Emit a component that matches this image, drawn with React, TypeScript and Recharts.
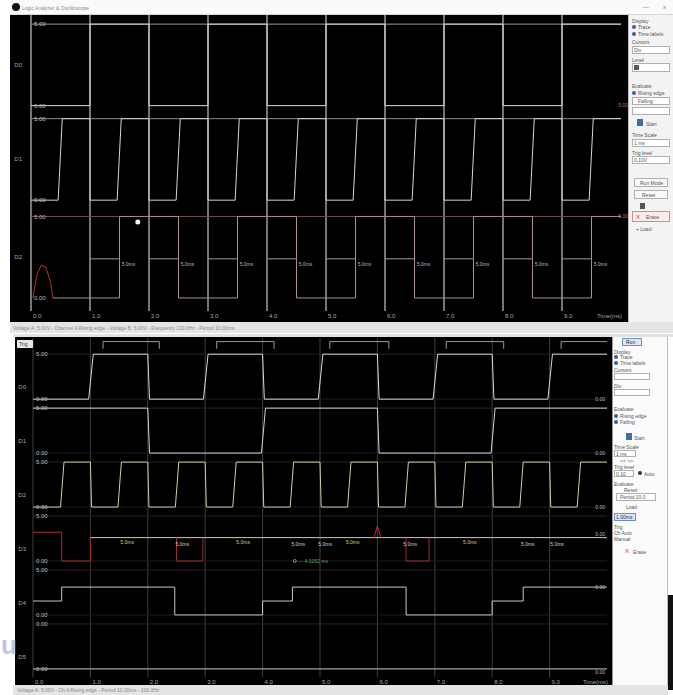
import React from 'react'
import { LineChart, Line, XAxis, YAxis, ReferenceLine, ReferenceDot } from 'recharts'

type Pt = [number, number]

// time in screen divisions, levels in volts per channel
const divs = [0, 1, 2, 3, 4, 5, 6, 7, 8, 9, 10]
const timeLabels = ['0.0', '1.0', '2.0', '3.0', '4.0', '5.0', '6.0', '7.0', '8.0', '9.0', 'Time(ms)']

// upper capture
const topNames = ['D0', 'D1', 'D2']
const topClock: Pt[] = [[0, 0], [1, 0], [1, 5], [2, 5], [2, 0], [3, 0], [3, 5], [4, 5], [4, 0], [5, 0], [5, 5], [6, 5], [6, 0], [7, 0], [7, 5], [8, 5], [8, 0], [9, 0], [9, 5], [10, 5]]
const topFast: Pt[] = [[0, 0], [0.46, 0], [0.53, 5], [1, 5], [1, 0], [1.46, 0], [1.53, 5], [2, 5], [2, 0], [2.46, 0], [2.53, 5], [3, 5], [3, 0], [3.46, 0], [3.53, 5], [4, 5], [4, 0], [4.46, 0], [4.53, 5], [5, 5], [5, 0], [5.46, 0], [5.53, 5], [6, 5], [6, 0], [6.46, 0], [6.53, 5], [7, 5], [7, 0], [7.46, 0], [7.53, 5], [8, 5], [8, 0], [8.46, 0], [8.53, 5], [9, 5], [9, 0], [9.46, 0], [9.53, 5], [10, 5]]
const topOut: Pt[] = [[0.37, 0], [1.5, 0], [1.5, 5], [2.5, 5], [2.5, 0], [3.5, 0], [3.5, 5], [4.5, 5], [4.5, 0], [5.5, 0], [5.5, 5], [6.5, 5], [6.5, 0], [7.5, 0], [7.5, 5], [8.5, 5], [8.5, 0], [9.5, 0], [9.5, 5], [10, 5]]
const topGlitch: Pt[] = [[0.03, 0], [0.1, 1.4], [0.17, 2], [0.25, 1.9], [0.33, 1], [0.37, 0]]
const topDelayFrom = [1, 2, 3, 4, 5, 6, 7, 8, 9]
const topDelayText = '5.0ms'

// lower capture
const botNames = ['D0', 'D1', 'D2', 'D3', 'D4', 'D5']
const botClock: Pt[] = [[0, 0], [0.97, 0], [1.05, 5], [2, 5], [2.03, 0], [2.97, 0], [3.05, 5], [4, 5], [4.03, 0], [4.97, 0], [5.05, 5], [6, 5], [6.03, 0], [6.97, 0], [7.05, 5], [8, 5], [8.03, 0], [8.97, 0], [9.05, 5], [10, 5]]
const botHalf: Pt[] = [[0, 5], [2, 5], [2.03, 0], [3.98, 0], [4.05, 5], [6, 5], [6.03, 0], [7.98, 0], [8.05, 5], [10, 5]]
const botFast: Pt[] = [[0, 0], [0.48, 0], [0.54, 5], [1, 5], [1.02, 0], [1.48, 0], [1.54, 5], [2, 5], [2.02, 0], [2.48, 0], [2.54, 5], [3, 5], [3.02, 0], [3.48, 0], [3.54, 5], [4, 5], [4.02, 0], [4.48, 0], [4.54, 5], [5, 5], [5.02, 0], [5.48, 0], [5.54, 5], [6, 5], [6.02, 0], [6.48, 0], [6.54, 5], [7, 5], [7.02, 0], [7.48, 0], [7.54, 5], [8, 5], [8.02, 0], [8.48, 0], [8.54, 5], [9, 5], [9.02, 0], [9.48, 0], [9.54, 5], [10, 5]]
const botRed: Pt[] = [[0, 3.2], [0.5, 3.2], [0.5, 0], [1, 0], [1, 2.6]]
const botYellow: Pt[] = [[1, 2.6], [10, 2.6]]
const botDips: Pt[][] = [
  [[2.5, 2.6], [2.5, 0], [2.96, 0], [2.96, 2.6]],
  [[6.5, 2.6], [6.5, 0], [6.9, 0], [6.9, 2.6]],
]
const botSpike: Pt[] = [[5.94, 2.6], [6, 3.9], [6.06, 2.6]]
const botStep: Pt[] = [[0, 1.55], [0.5, 1.55], [0.5, 3.1], [2.47, 3.1], [2.47, 0], [4, 0], [4, 1.55], [4.52, 1.55], [4.52, 3.1], [6.5, 3.1], [6.5, 0], [8, 0], [8, 1.55], [8.54, 1.55], [8.54, 3.1], [10, 3.1]]
const botFlat: Pt[] = [[0, 0], [10, 0]]
const botBrackets: Pt[][] = [
  [[1.22, 5.6], [1.22, 6.4], [2.2, 6.4], [2.2, 5.6]],
  [[3.2, 5.6], [3.2, 6.4], [4.2, 6.4], [4.2, 5.6]],
  [[5.17, 5.6], [5.17, 6.4], [6.2, 6.4], [6.2, 5.6]],
  [[7.2, 5.6], [7.2, 6.4], [8.2, 6.4], [8.2, 5.6]],
  [[9.2, 5.6], [9.2, 6.4], [10, 6.4]],
]
const botTagsYellow = [1.64, 3.66, 5.57, 7.61]
const botTagsWhite = [2.6, 4.62, 5.09, 6.57, 8.62, 9.13]
const botTagText = '5.0ms'
const botRightLevels = [0, 0, 0, 3.0, 3.1, -0.4]

const font = '"Liberation Sans", Arial, sans-serif'
const ser = (pts: Pt[], off: number) => pts.map(([t, v]) => ({ t, v: v + off }))

function TimeTick(props: any) {
  const { x, y, payload } = props
  const i = divs.indexOf(payload.value)
  const last = i === divs.length - 1
  return (
    <text x={last ? x + 1 : x + 2} y={y + 7} fontSize={6} fill="#a8a8a8" fontFamily={font} textAnchor={last ? 'end' : 'start'}>
      {timeLabels[i]}
    </text>
  )
}

function NameTick(props: any) {
  const { x, y, payload, names, offsets, lift } = props
  const i = offsets.findIndex((o: number) => Math.abs(o + lift - payload.value) < 0.01)
  return (
    <text x={x} y={y} dy={2} fontSize={6} fill="#a8a8a8" fontFamily={font} textAnchor="end">
      {names[i]}
    </text>
  )
}

const lvl = (value: string, fill = '#bdbdbd') => ({ value, position: 'insideLeft' as const, fill, fontSize: 6, offset: 3, fontFamily: font })

function trace(key: string, pts: Pt[], off: number, stroke: string) {
  return (
    <Line key={key} yAxisId="y" data={ser(pts, off)} dataKey="v" type="linear" stroke={stroke} strokeWidth={1}
      dot={false} activeDot={false} isAnimationActive={false} />
  )
}

function TopScope() {
  const offs = [11.8, 6, 0]
  return (
    <LineChart width={618} height={305} margin={{ top: 0, right: 7, bottom: 0, left: 0 }}>
      <XAxis type="number" dataKey="t" domain={[0, 10]} ticks={divs} interval={0} allowDataOverflow
        axisLine={false} tickLine={false} tickSize={0} tickMargin={0} height={9} tick={(p: any) => <TimeTick {...p} />} />
      <YAxis yAxisId="y" type="number" domain={[-0.8, 17.36]} allowDataOverflow ticks={offs.map((o) => o + 2.5)}
        axisLine={false} tickLine={false} tickSize={0} tickMargin={9} width={21}
        tick={(p: any) => <NameTick {...p} names={topNames} offsets={offs} lift={2.5} />} />
      {divs.slice(0, 10).map((d) => (
        <ReferenceLine key={'g' + d} yAxisId="y" x={d} stroke="#c4c4c4" strokeWidth={1.2} />
      ))}
      <ReferenceLine yAxisId="y" y={offs[0] + 5} stroke="#9a9a9a" label={lvl('5.00')} />
      <ReferenceLine yAxisId="y" y={offs[0]} stroke="none" label={lvl('0.00')} />
      <ReferenceLine yAxisId="y" y={offs[1] + 5} stroke="#8a8a8a" label={lvl('5.00')} />
      <ReferenceLine yAxisId="y" y={offs[1]} stroke="none" label={lvl('0.00')} />
      <ReferenceLine yAxisId="y" y={offs[2] + 5} stroke="#7c4a4a" label={lvl('5.00')} />
      <ReferenceLine yAxisId="y" y={offs[2]} stroke="none" label={lvl('0.00')} />
      {topDelayFrom.map((d) => (
        <ReferenceLine key={'m' + d} yAxisId="y" segment={[{ x: d, y: offs[2] + 2.4 }, { x: d + 0.5, y: offs[2] + 2.4 }]} stroke="#9a9a9a" />
      ))}
      {topDelayFrom.map((d) => (
        <ReferenceDot key={'ml' + d} yAxisId="y" x={d + 0.52} y={offs[2] + 2.1} r={0} stroke="none" fill="none"
          label={{ value: topDelayText, position: 'right', fill: '#b8b8b8', fontSize: 5, offset: 1, fontFamily: font }} />
      ))}
      {trace('c1', topClock, offs[0], '#dcdcdc')}
      {trace('c2', topFast, offs[1], '#d6d6d6')}
      {trace('c3', topOut, offs[2], '#a98e8e')}
      {trace('gl', topGlitch, offs[2], '#a83434')}
      <ReferenceDot yAxisId="y" x={10} y={offs[0]} r={0} stroke="none" fill="none"
        label={{ value: '5.00', position: 'left', fill: '#c86a6a', fontSize: 5, offset: -7, fontFamily: font }} />
      <ReferenceDot yAxisId="y" x={10} y={offs[2] + 5} r={0} stroke="none" fill="none"
        label={{ value: '5.00', position: 'left', fill: '#c86a6a', fontSize: 5, offset: -7, fontFamily: font }} />
      <ReferenceDot yAxisId="y" x={1.81} y={offs[2] + 4.66} r={2.5} stroke="none" fill="#f4f4f4" />
    </LineChart>
  )
}

function BottomScope() {
  const offs = [30, 24, 18, 12, 6, 0]
  return (
    <LineChart width={597} height={348} margin={{ top: 1, right: 5, bottom: 0, left: 0 }}>
      <XAxis type="number" dataKey="t" domain={[0, 10]} ticks={divs} interval={0} allowDataOverflow
        axisLine={false} tickLine={false} tickSize={0} tickMargin={0} height={8} tick={(p: any) => <TimeTick {...p} />} />
      <YAxis yAxisId="y" type="number" domain={[-0.9, 36.8]} allowDataOverflow ticks={offs.map((o) => o + 1.3)}
        axisLine={false} tickLine={false} tickSize={0} tickMargin={7} width={18}
        tick={(p: any) => <NameTick {...p} names={botNames} offsets={offs} lift={1.3} />} />
      {divs.slice(0, 10).map((d) => (
        <ReferenceLine key={'g' + d} yAxisId="y" x={d} stroke="#3e3e3e" />
      ))}
      {offs.map((o, i) => (
        <ReferenceLine key={'h' + i} yAxisId="y" y={o + 5} stroke="#242424" label={lvl(i === 5 ? '0.00' : '5.00')} />
      ))}
      {offs.map((o, i) => (
        <ReferenceLine key={'z' + i} yAxisId="y" y={o} stroke="#1c1c1c" label={lvl('0.00')} />
      ))}
      {botBrackets.map((b, i) => trace('br' + i, b, offs[0], '#9a9a9a'))}
      {trace('a', botClock, offs[0], '#d8d8d8')}
      {trace('b', botHalf, offs[1], '#d4d4d4')}
      {trace('c', botFast, offs[2], '#c4d3a8')}
      {trace('y', botYellow, offs[3], '#d2d08a')}
      {trace('r', botRed, offs[3], '#b02a2a')}
      {botDips.map((d, i) => trace('dp' + i, d, offs[3], '#9a3030'))}
      {trace('sp', botSpike, offs[3], '#c02828')}
      {trace('e', botStep, offs[4], '#c8c8c8')}
      {trace('f', botFlat, offs[5], '#c0c0c0')}
      {botTagsYellow.map((t) => (
        <ReferenceDot key={'ty' + t} yAxisId="y" x={t} y={offs[3] + 2.1} r={0} stroke="none" fill="none"
          label={{ value: botTagText, position: 'center', fill: '#d8d27a', fontSize: 5, fontFamily: font }} />
      ))}
      {botTagsWhite.map((t) => (
        <ReferenceDot key={'tw' + t} yAxisId="y" x={t} y={offs[3] + 1.9} r={0} stroke="none" fill="none"
          label={{ value: botTagText, position: 'center', fill: '#d0d0d0', fontSize: 5, fontFamily: font }} />
      ))}
      <ReferenceDot yAxisId="y" x={4.56} y={offs[3]} r={1.5} stroke="#6aa86a" fill="none"
        label={{ value: '— 4.0152 ms', position: 'right', fill: '#6aa86a', fontSize: 5, offset: 2, fontFamily: font }} />
      {botRightLevels.map((v, i) => (
        <ReferenceDot key={'rl' + i} yAxisId="y" x={10} y={offs[i] + v} r={0} stroke="none" fill="none"
          label={{ value: '0.00', position: 'left', fill: '#bdbdbd', fontSize: 5, offset: 2, fontFamily: font }} />
      ))}
    </LineChart>
  )
}

function T({ x, y, c, s, children }: any) {
  return (
    <div style={{ position: 'absolute', left: x, top: y, fontSize: s ?? 5, lineHeight: '6px', color: c ?? '#555', whiteSpace: 'nowrap' }}>
      {children}
    </div>
  )
}

function Box({ x, y, w, h, b, bg }: any) {
  return (
    <div style={{ position: 'absolute', left: x, top: y, width: w, height: h, background: bg ?? '#fff', border: `1px solid ${b ?? '#b0b0b0'}`, boxSizing: 'border-box' }} />
  )
}

function Dot({ x, y, c }: any) {
  return <div style={{ position: 'absolute', left: x, top: y, width: 4, height: 4, borderRadius: 2, background: c ?? '#3a5fa0' }} />
}

export default function App() {
  return (
    <div style={{ position: 'absolute', left: 0, top: 0, width: 673, height: 695, background: '#fff', overflow: 'hidden', fontFamily: font }}>
      {/* upper window */}
      <div style={{ position: 'absolute', left: 10, top: 0, width: 663, height: 15, background: '#fafafa', borderBottom: '1px solid #d8d8d8', boxSizing: 'border-box' }} />
      <div style={{ position: 'absolute', left: 12, top: 3, width: 8, height: 8, borderRadius: 4, background: '#111' }} />
      <T x={22} y={5} c="#888">Logic Analyzer &amp; Oscilloscope</T>
      <T x={643} y={4} c="#777" s={6}>—</T>
      <T x={663} y={4} c="#777" s={6}>x</T>
      <div style={{ position: 'absolute', left: 10, top: 15, width: 618, height: 307, background: '#000' }}>
        <TopScope />
      </div>
      <div style={{ position: 'absolute', left: 10, top: 322, width: 663, height: 11, background: '#e4e4e4' }} />
      <T x={13} y={325} c="#8a8a8a">Voltage A: 5.00V - Channel A Rising edge - Voltage B: 5.00V - Frequency 100.0Hz - Period 10.00ms</T>
      <div style={{ position: 'absolute', left: 628, top: 15, width: 45, height: 307, background: '#f3f3f3', borderLeft: '1px solid #bbb', boxSizing: 'border-box' }} />
      <T x={632} y={18}>Display</T>
      <Dot x={632} y={25} /><T x={638} y={24}>Trace</T>
      <Dot x={632} y={32} /><T x={638} y={31}>Time labels</T>
      <T x={632} y={39}>Cursors</T>
      <Box x={632} y={46} w={38} h={8} /><T x={634} y={47}>Div</T>
      <T x={632} y={57}>Level</T>
      <Box x={632} y={63} w={38} h={9} /><div style={{ position: 'absolute', left: 634, top: 65, width: 5, height: 5, background: '#556' }} />
      <T x={632} y={83}>Evaluate</T>
      <Dot x={632} y={91} /><T x={638} y={90}>Rising edge</T>
      <Box x={632} y={97} w={38} h={8} /><T x={638} y={98}>Falling</T>
      <Box x={632} y={107} w={38} h={8} />
      <div style={{ position: 'absolute', left: 637, top: 119, width: 6, height: 7, background: '#3b6ea8' }} /><T x={646} y={121}>Start</T>
      <T x={632} y={132}>Time Scale</T>
      <Box x={632} y={139} w={38} h={8} /><T x={634} y={140}>1 ms</T>
      <T x={632} y={150}>Trig level</T>
      <Box x={632} y={156} w={38} h={8} /><T x={634} y={157}>0.10V</T>
      <Box x={634} y={178} w={34} h={9} bg="#f8f8f8" /><T x={640} y={180}>Run Mode</T>
      <Box x={634} y={190} w={34} h={9} bg="#f8f8f8" /><T x={642} y={192}>Reset</T>
      <div style={{ position: 'absolute', left: 640, top: 203, width: 5, height: 6, background: '#555' }} />
      <Box x={632} y={211} w={38} h={11} b="#d88" bg="#fbeaea" /><T x={636} y={214} c="#c33" s={6}>X</T><T x={646} y={214}>Erase</T>
      <T x={636} y={226}>+ Load</T>

      {/* lower window */}
      <div style={{ position: 'absolute', left: 13, top: 334, width: 660, height: 3, background: '#e2e2e2' }} />
      <div style={{ position: 'absolute', left: 15, top: 337, width: 597, height: 348, background: '#000' }}>
        <BottomScope />
      </div>
      <div style={{ position: 'absolute', left: 17, top: 340, width: 16, height: 8, background: '#e8e8e8', borderRadius: 1 }} />
      <T x={19} y={341} c="#333">Trig</T>
      <div style={{ position: 'absolute', left: 612, top: 337, width: 56, height: 348, background: '#fbfbfb', borderLeft: '1px solid #999', borderRight: '1px solid #bbb', boxSizing: 'border-box' }} />
      <Box x={622} y={338} w={20} h={8} b="#6b8fc4" bg="#dce8f6" /><T x={626} y={339} c="#224">Run</T>
      <T x={614} y={349}>Display</T>
      <Dot x={614} y={355} /><T x={620} y={354}>Trace</T>
      <Dot x={614} y={361} /><T x={620} y={360}>Time labels</T>
      <T x={614} y={367}>Cursors</T>
      <Box x={614} y={373} w={36} h={7} />
      <T x={614} y={383}>Div</T>
      <Box x={614} y={389} w={36} h={7} />
      <T x={614} y={406}>Evaluate</T>
      <Dot x={614} y={414} /><T x={620} y={413}>Rising edge</T>
      <Dot x={614} y={420} /><T x={620} y={419}>Falling</T>
      <div style={{ position: 'absolute', left: 626, top: 433, width: 6, height: 7, background: '#3b6ea8' }} /><T x={634} y={435}>Start</T>
      <T x={614} y={444}>Time Scale</T>
      <Box x={614} y={450} w={22} h={7} /><T x={616} y={451}>1 ms</T>
      <T x={620} y={458}>&lt;&lt; &gt;&gt;</T>
      <T x={614} y={464}>Trig level</T>
      <Box x={614} y={470} w={20} h={7} /><T x={616} y={471}>0.10</T>
      <Dot x={638} y={471} c="#333" /><T x={644} y={471}>Auto</T>
      <T x={614} y={481}>Evaluate</T>
      <T x={624} y={487}>Reset</T>
      <Box x={616} y={493} w={40} h={8} /><T x={620} y={494}>Period 10.0</T>
      <T x={626} y={504}>Load</T>
      <Box x={614} y={513} w={22} h={8} b="#6b8fc4" bg="#dce8f6" /><T x={616} y={514} c="#224">1.00ms</T>
      <T x={614} y={524}>Trig</T>
      <T x={614} y={530}>Ch  Auto</T>
      <T x={614} y={536}>Manual</T>
      <T x={625} y={548} c="#c33" s={6}>X</T><T x={633} y={549}>Erase</T>
      <div style={{ position: 'absolute', left: 668, top: 595, width: 5, height: 95, background: '#111' }} />
      <div style={{ position: 'absolute', left: 13, top: 685, width: 655, height: 10, background: '#e4e4e4' }} />
      <T x={17} y={687} c="#888">Voltage A: 5.00V - Ch A Rising edge - Period 10.00ms - 100.0Hz</T>
      <div style={{ position: 'absolute', left: 1, top: 630, fontSize: 26, fontWeight: 'bold', color: '#bcc7df', lineHeight: '30px' }}>u</div>
    </div>
  )
}
